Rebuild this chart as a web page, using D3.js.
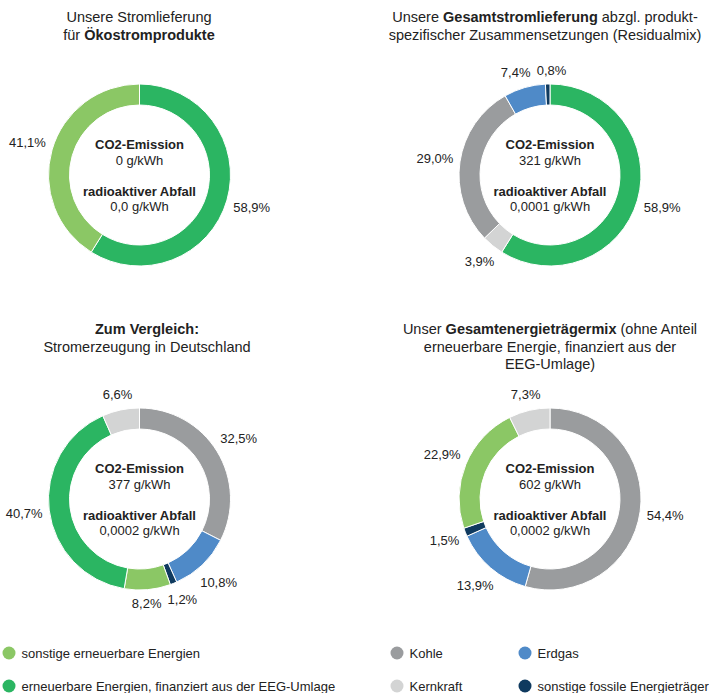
<!DOCTYPE html>
<html>
<head>
<meta charset="utf-8">
<script src="https://cdn.jsdelivr.net/npm/d3@7"></script>
<style>
  body { margin: 0; background: #fff; }
  svg { display: block; font-family: "Liberation Sans", Arial, sans-serif; }
  text { fill: #222; }
</style>
</head>
<body>
<script>
// categories (legend order) and their keys
const categoryKeys = ['sonst', 'eeg', 'kohle', 'erdgas', 'kern', 'fossil'];
const categoryNames = [
    'sonstige erneuerbare Energien',
    'erneuerbare Energien, finanziert aus der EEG-Umlage',
    'Kohle',
    'Erdgas',
    'Kernkraft',
    'sonstige fossile Energieträger',
];

// segment order (clockwise from 12 o'clock) and values in %
const oekoKeys = ['eeg', 'sonst'];
const oekoValues = [58.9, 41.1];

const residualKeys = ['eeg', 'kern', 'kohle', 'erdgas', 'fossil'];
const residualValues = [58.9, 3.9, 29.0, 7.4, 0.8];

const deutschlandKeys = ['kohle', 'erdgas', 'fossil', 'sonst', 'eeg', 'kern'];
const deutschlandValues = [32.5, 10.8, 1.2, 8.2, 40.7, 6.6];

const gesamtKeys = ['kohle', 'erdgas', 'fossil', 'sonst', 'kern'];
const gesamtValues = [54.4, 13.9, 1.5, 22.9, 7.3];

const co2Values = ['0 g/kWh', '321 g/kWh', '377 g/kWh', '602 g/kWh'];
const wasteValues = ['0,0 g/kWh', '0,0001 g/kWh', '0,0002 g/kWh', '0,0002 g/kWh'];

// title lines, each a list of [text, bold]
const titles = [
    [[['Unsere Stromlieferung', false]], [['für ', false], ['Ökostromprodukte', true]]],
    [[['Unsere ', false], ['Gesamtstromlieferung', true], [' abzgl. produkt-', false]],
     [['spezifischer Zusammensetzungen (Residualmix)', false]]],
    [[['Zum Vergleich:', true]], [['Stromerzeugung in Deutschland', false]]],
    [[['Unser ', false], ['Gesamtenergieträgermix', true], [' (ohne Anteil', false]],
     [['erneuerbare Energie, finanziert aus der', false]],
     [['EEG-Umlage)', false]]],
];

const charts = [
    { keys: oekoKeys, values: oekoValues },
    { keys: residualKeys, values: residualValues },
    { keys: deutschlandKeys, values: deutschlandValues },
    { keys: gesamtKeys, values: gesamtValues },
];

const config = {
    width: 709,
    height: 693,
    outer: 91,
    inner: 70,
    centers: [[139.5, 175], [550, 175], [139.5, 499], [550, 499]],
    titleX: [139, 545, 147, 550],
    titleY: [17, 17, 329, 329],
    titleLine: 17.5,
    labelPad: 6,
};

const color = d3.scaleOrdinal()
    .domain(categoryKeys)
    .range(['#8bc765', '#2bb562', '#9a9c9e', '#4f8ac8', '#d3d4d4', '#0f3a5f']);

const fmt = d3.formatLocale({ decimal: ',', thousands: '.', grouping: [3], currency: ['', '€'] }).format('.1f');

const svg = d3.select('body')
    .append('svg')
    .attr('width', config.width)
    .attr('height', config.height);

const pie = d3.pie().sort(null).value(d => d.value);
const arc = d3.arc().innerRadius(config.inner).outerRadius(config.outer);

function labelPos(a, w) {
    const r = config.outer + config.labelPad + Math.abs(Math.sin(a)) * w / 2 + Math.abs(Math.cos(a)) * 7;
    return [Math.sin(a) * r, -Math.cos(a) * r];
}

charts.forEach((chart, i) => {
    const [cx, cy] = config.centers[i];

    // title
    const title = svg.append('text')
        .attr('x', config.titleX[i])
        .attr('text-anchor', 'middle')
        .style('font-size', '14.5px');
    titles[i].forEach((line, j) => {
        const t = title.append('tspan')
            .attr('x', config.titleX[i])
            .attr('y', config.titleY[i] + j * config.titleLine)
            .attr('dy', '0.35em');
        line.forEach(([s, bold]) => {
            t.append('tspan')
                .style('font-weight', bold ? 'bold' : 'normal')
                .text(s);
        });
    });

    const g = svg.append('g').attr('transform', `translate(${cx},${cy})`);
    const data = pie(chart.keys.map((k, j) => ({ key: k, value: chart.values[j] })));

    g.selectAll('path')
        .data(data).enter()
        .append('path')
            .attr('d', arc)
            .style('fill', d => color(d.data.key))
            .style('stroke', '#fff')
            .style('stroke-width', 1);

    // percent labels outside the ring
    const labels = g.selectAll('text.pct')
        .data(data).enter()
        .append('text')
            .attr('class', 'pct')
            .attr('text-anchor', 'middle')
            .attr('dy', '0.35em')
            .style('font-size', '13px')
            .text(d => fmt(d.data.value) + '%');

    labels.each(function(d) {
        d.a = (d.startAngle + d.endAngle) / 2;
        d.w = this.getComputedTextLength();
    });

    // push overlapping neighbours apart along the ring
    const ld = labels.data();
    for (let it = 0; it < 200; it++) {
        let moved = false;
        for (let p = 0; p < ld.length; p++) {
            for (let q = p + 1; q < ld.length; q++) {
                const [x1, y1] = labelPos(ld[p].a, ld[p].w);
                const [x2, y2] = labelPos(ld[q].a, ld[q].w);
                const ox = (ld[p].w + ld[q].w) / 2 + 6 - Math.abs(x1 - x2);
                const oy = 16 - Math.abs(y1 - y2);
                if (ox > 0 && oy > 0) {
                    const lo = ld[p].a < ld[q].a ? ld[p] : ld[q];
                    const hi = lo === ld[p] ? ld[q] : ld[p];
                    lo.a -= 0.01;
                    hi.a += 0.01;
                    moved = true;
                }
            }
        }
        if (!moved) break;
    }

    labels
        .attr('x', d => labelPos(d.a, d.w)[0])
        .attr('y', d => labelPos(d.a, d.w)[1]);

    // centre text
    const centre = [
        ['CO2-Emission', true, -30.5],
        [co2Values[i], false, -15],
        ['radioaktiver Abfall', true, 16],
        [wasteValues[i], false, 31],
    ];
    g.selectAll('text.centre')
        .data(centre).enter()
        .append('text')
            .attr('class', 'centre')
            .attr('text-anchor', 'middle')
            .attr('y', d => d[2])
            .attr('dy', '0.35em')
            .style('font-size', '13px')
            .style('font-weight', d => d[1] ? 'bold' : 'normal')
            .text(d => d[0]);
});

// legend
const legendPos = [[9, 653], [9, 686], [397, 653], [525, 653], [397, 686], [525, 686]];
const legend = svg.selectAll('g.legend')
    .data(categoryKeys).enter()
    .append('g')
        .attr('class', 'legend')
        .attr('transform', (d, i) => `translate(${legendPos[i][0]},${legendPos[i][1]})`);

legend.append('circle')
    .attr('r', 6.5)
    .style('fill', d => color(d));

legend.append('text')
    .attr('x', 12.5)
    .attr('dy', '0.35em')
    .style('font-size', '13px')
    .text((d, i) => categoryNames[i]);
</script>
</body>
</html>
